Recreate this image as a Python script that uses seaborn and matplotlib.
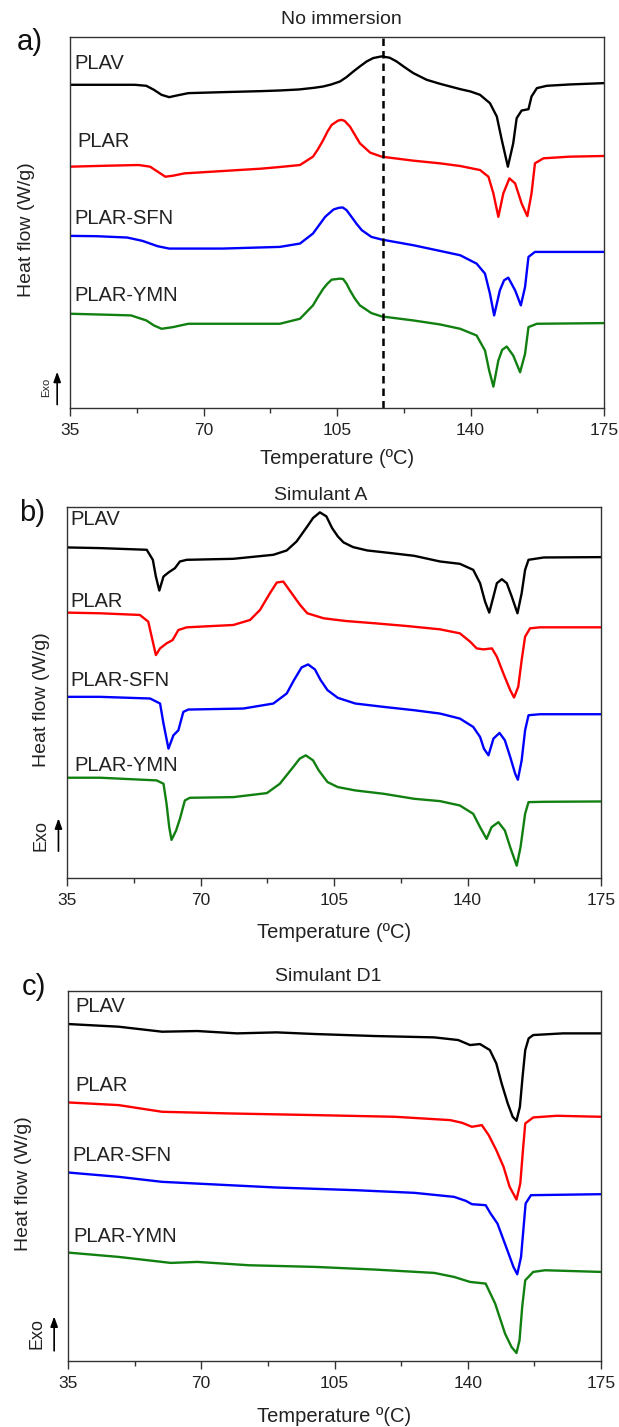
import numpy as np
import pandas as pd
import matplotlib
matplotlib.use("Agg")
import matplotlib.pyplot as plt
import matplotlib.transforms as mtransforms
import seaborn as sns

# ---------------- data (heat flow in arbitrary units, curves offset) ----------------
samples = ["PLAV", "PLAR", "PLAR-SFN", "PLAR-YMN"]
colors = ["#000000", "#ff0000", "#0000ff", "#118011"]
xticks = [35, 70, 105, 140, 175]
panel_titles = ["No immersion", "Simulant A", "Simulant D1"]
panel_letters = ["a)", "b)", "c)"]
xlabels = ["Temperature (\u00baC)", "Temperature (\u00baC)", "Temperature \u00ba(C)"]
tc_line = 117  # dashed marker in panel a

# Panel a: No immersion
a_plav_t = [35, 52, 55, 57, 59, 61, 63, 66, 75, 85, 90, 95, 99, 101.4, 103.5, 105.8, 107.5, 109.3, 111, 112.8, 114.5, 116.7, 118.8, 120.6, 122.8, 125, 128.5, 132, 137.3, 140, 142.5, 145.1, 146.9, 148.2, 149.8, 151.2, 152.1, 153.4, 155.2, 156, 157.4, 160, 166, 175]
a_plav_hf = [-2.55, -2.55, -2.58, -2.70, -2.85, -2.92, -2.87, -2.80, -2.77, -2.74, -2.72, -2.69, -2.64, -2.60, -2.54, -2.45, -2.32, -2.15, -2.00, -1.85, -1.75, -1.70, -1.74, -1.85, -2.03, -2.20, -2.40, -2.52, -2.68, -2.75, -2.85, -3.10, -3.50, -4.20, -5.00, -4.30, -3.55, -3.32, -3.28, -2.90, -2.65, -2.58, -2.54, -2.50]
a_plar_t = [35, 45, 53, 56, 58, 60, 62, 65, 75, 85, 90, 95.3, 98.7, 100, 101.4, 102.5, 103.6, 105.3, 106.2, 107, 108.4, 109.7, 111, 113.7, 116.7, 125, 132, 137.3, 142.5, 144.7, 146, 147.3, 148.6, 150.2, 151.7, 153.4, 154.9, 156, 156.9, 159.1, 166, 175]
a_plar_hf = [-5.00, -4.97, -4.95, -5.00, -5.15, -5.30, -5.27, -5.20, -5.13, -5.06, -5.01, -4.95, -4.70, -4.48, -4.20, -3.95, -3.75, -3.62, -3.60, -3.63, -3.80, -4.05, -4.30, -4.58, -4.70, -4.82, -4.90, -4.98, -5.10, -5.30, -5.80, -6.50, -5.80, -5.35, -5.50, -6.10, -6.48, -5.80, -4.90, -4.75, -4.70, -4.68]
a_sfn_t = [35, 42, 50, 54, 58, 61, 75, 90, 95.3, 98.7, 100.3, 101.9, 104.1, 105.5, 106.5, 107.5, 108.8, 110.2, 111.5, 114, 116.7, 125, 132, 137.3, 141.6, 143.8, 145.1, 146.2, 147.7, 148.8, 149.9, 151.7, 153.2, 154.3, 155.2, 156.9, 175]
a_sfn_hf = [-7.07, -7.08, -7.12, -7.22, -7.38, -7.45, -7.45, -7.40, -7.30, -7.00, -6.75, -6.50, -6.28, -6.23, -6.22, -6.30, -6.50, -6.72, -6.90, -7.10, -7.18, -7.35, -7.52, -7.65, -7.90, -8.20, -8.80, -9.45, -8.70, -8.40, -8.32, -8.70, -9.15, -8.60, -7.70, -7.55, -7.55]
a_ymn_t = [35, 45, 51, 55, 57, 59, 62, 66, 80, 90, 95.3, 98.7, 100, 101.4, 102.5, 103.6, 105.8, 106.6, 107.5, 108.4, 109.7, 111, 114, 116.7, 125, 132, 137.3, 141.6, 143.8, 144.9, 146, 147.3, 148.3, 149.5, 151.2, 153, 154.3, 155.2, 157.4, 175]
a_ymn_hf = [-9.40, -9.43, -9.45, -9.60, -9.75, -9.85, -9.80, -9.70, -9.70, -9.70, -9.55, -9.15, -8.90, -8.65, -8.50, -8.38, -8.35, -8.36, -8.50, -8.70, -8.95, -9.15, -9.38, -9.48, -9.60, -9.72, -9.85, -10.05, -10.50, -11.10, -11.58, -10.80, -10.48, -10.38, -10.65, -11.15, -10.60, -9.80, -9.70, -9.68]

# Panel b: Simulant A
b_plav_t = [35, 43.7, 55.9, 57.5, 58.3, 59.2, 60.3, 61.6, 63.3, 64.6, 66.4, 78.6, 89.1, 92.6, 95.2, 98, 99.5, 101.3, 103, 104.5, 106, 107.5, 110, 113.7, 120, 126, 132.8, 138, 141.5, 143.3, 144.6, 145.7, 146.8, 147.7, 149, 150.3, 151.6, 153.1, 154.2, 155.1, 156, 160, 175]
b_plav_hf = [-2.33, -2.35, -2.40, -2.70, -3.20, -3.62, -3.20, -3.08, -2.95, -2.75, -2.70, -2.67, -2.55, -2.42, -2.15, -1.70, -1.45, -1.28, -1.40, -1.75, -2.00, -2.18, -2.32, -2.42, -2.50, -2.58, -2.75, -2.82, -3.00, -3.40, -3.95, -4.28, -3.80, -3.40, -3.28, -3.40, -3.80, -4.30, -3.70, -3.00, -2.70, -2.63, -2.62]
b_plar_t = [35, 43.7, 54.1, 56.3, 57.2, 58.3, 59.4, 61.1, 62.7, 64.2, 66.4, 78.6, 83, 85.6, 88.2, 90, 91.7, 93.9, 96.1, 98, 102.3, 108, 115.8, 124, 132.8, 138, 140.7, 142.4, 144.2, 146.4, 147.7, 149.4, 151.2, 152.2, 153.3, 154.2, 155.1, 156.4, 159, 175]
b_plar_hf = [-4.28, -4.30, -4.35, -4.55, -5.00, -5.55, -5.35, -5.20, -5.10, -4.80, -4.72, -4.65, -4.50, -4.20, -3.70, -3.38, -3.35, -3.70, -4.05, -4.30, -4.45, -4.53, -4.60, -4.68, -4.78, -4.90, -5.15, -5.35, -5.38, -5.35, -5.60, -6.10, -6.60, -6.82, -6.50, -5.70, -5.00, -4.75, -4.72, -4.72]
b_sfn_t = [35, 43.7, 56.8, 59.4, 60.3, 61.6, 62.9, 64.2, 65.5, 66.8, 81.2, 89.1, 92.6, 94.5, 96.5, 98.2, 100, 101.5, 103.3, 106, 110.6, 118, 126, 132.8, 138, 141.5, 143.3, 144.3, 145.5, 146.8, 148.4, 149.8, 151.2, 152.5, 153.2, 154.2, 155.1, 156, 159, 175]
b_sfn_hf = [-6.80, -6.80, -6.85, -7.00, -7.60, -8.35, -7.95, -7.80, -7.25, -7.18, -7.15, -7.00, -6.70, -6.30, -5.92, -5.83, -5.98, -6.30, -6.60, -6.83, -7.00, -7.10, -7.20, -7.30, -7.45, -7.70, -8.00, -8.35, -8.55, -8.05, -7.88, -8.10, -8.60, -9.10, -9.28, -8.70, -7.80, -7.35, -7.32, -7.32]
b_ymn_t = [35, 43.7, 58.5, 60.3, 61.1, 61.8, 62.4, 63.6, 64.6, 65.9, 67.2, 78.6, 87.4, 90.8, 94.3, 96, 97.6, 99.5, 101, 103.3, 106, 110.6, 118, 126, 132.8, 138, 141.5, 143.3, 145, 146.3, 148.1, 149.8, 151.2, 152.9, 153.9, 155.1, 156, 160, 175]
b_ymn_hf = [-9.22, -9.22, -9.30, -9.40, -10.00, -10.70, -11.08, -10.80, -10.45, -9.90, -9.82, -9.80, -9.68, -9.40, -8.90, -8.65, -8.55, -8.70, -9.00, -9.35, -9.50, -9.60, -9.70, -9.85, -9.92, -10.05, -10.30, -10.70, -11.05, -10.70, -10.55, -10.80, -11.30, -11.85, -11.30, -10.30, -9.95, -9.94, -9.93]

# Panel c: Simulant D1
c_plav_t = [35, 48.3, 59.7, 69, 79.4, 89.8, 100, 115.7, 131.2, 137.5, 140.6, 143.2, 145.8, 147.5, 148.9, 150.5, 151.8, 152.8, 153.7, 154.4, 155.1, 156, 157.2, 165, 175]
c_plav_hf = [-2.22, -2.30, -2.45, -2.43, -2.50, -2.47, -2.52, -2.58, -2.62, -2.70, -2.85, -2.82, -3.00, -3.40, -4.00, -4.60, -5.00, -5.12, -4.70, -3.80, -3.00, -2.65, -2.55, -2.50, -2.50]
c_plar_t = [35, 48.3, 59.7, 77.3, 100, 120.9, 135.4, 138.5, 141.1, 143.7, 145.5, 147.5, 149.4, 151, 152.8, 153.8, 154.5, 155.1, 157.2, 163.4, 175]
c_plar_hf = [-4.57, -4.65, -4.85, -4.90, -4.95, -5.00, -5.10, -5.18, -5.30, -5.25, -5.55, -6.00, -6.50, -7.10, -7.48, -7.00, -6.00, -5.20, -5.02, -4.97, -5.00]
c_sfn_t = [35, 48.3, 59.7, 77.3, 89.7, 110.5, 126, 136.4, 139.5, 141.1, 144.7, 146, 147.8, 150.4, 152, 153, 154, 154.6, 155.2, 156.6, 175]
c_sfn_hf = [-6.67, -6.80, -6.95, -7.05, -7.12, -7.20, -7.28, -7.40, -7.52, -7.62, -7.65, -7.90, -8.20, -9.00, -9.50, -9.72, -9.20, -8.40, -7.60, -7.35, -7.32]
c_ymn_t = [35, 48.3, 62, 69, 82.5, 100, 115.7, 131.2, 136.4, 140.6, 144.7, 147.2, 149.8, 151.5, 152.8, 153.6, 154.3, 155.1, 157.2, 160.3, 175]
c_ymn_hf = [-9.07, -9.20, -9.38, -9.35, -9.45, -9.50, -9.58, -9.68, -9.80, -9.95, -10.00, -10.60, -11.50, -11.90, -12.08, -11.70, -10.70, -9.90, -9.65, -9.60, -9.65]

# ---------------- styling ----------------
sns.set_theme(style="white")
plt.rcParams["font.family"] = ["Liberation Sans", "DejaVu Sans"]
plt.rcParams["axes.edgecolor"] = "#333333"
plt.rcParams["axes.linewidth"] = 1.0

W, H = 619, 1427
fig = plt.figure(figsize=(W / 100, H / 100), dpi=100)

# axes boxes in pixels: left, top, right, bottom
boxes = [(70, 37, 604, 408), (67, 507, 601, 878), (68, 991, 601, 1361)]
ylims = [(-12.22, -1.12), (-12.22, -1.12), (-12.32, -1.23)]

panels = [
    [(a_plav_t, a_plav_hf), (a_plar_t, a_plar_hf), (a_sfn_t, a_sfn_hf), (a_ymn_t, a_ymn_hf)],
    [(b_plav_t, b_plav_hf), (b_plar_t, b_plar_hf), (b_sfn_t, b_sfn_hf), (b_ymn_t, b_ymn_hf)],
    [(c_plav_t, c_plav_hf), (c_plar_t, c_plar_hf), (c_sfn_t, c_sfn_hf), (c_ymn_t, c_ymn_hf)],
]

label_pos = [
    [(36.2, -1.90), (37.0, -4.25), (36.2, -6.55), (36.2, -8.85)],
    [(36.0, -1.50), (36.0, -3.95), (36.0, -6.32), (37.0, -8.85)],
    [(36.9, -1.70), (36.9, -4.05), (36.2, -6.17), (36.4, -8.60)],
]
title_pos = [(0.509, 0.046), (0.476, 0.032), (0.488, 0.038)]
letter_pos = [(30, 42), (32, 513), (34, 987)]
ylabel_x = [-0.081, -0.048, -0.083]
exo_arrow = [(-0.024, -12.20, -11.05), (-0.016, -11.50, -10.35), (-0.026, -12.10, -10.90)]
exo_text = [(-0.045, -11.60, 8), (-0.048, -10.95, 13), (-0.059, -11.50, 13)]
xlabel_off = [50, 55, 56]

for i, (l, t, r, b) in enumerate(boxes):
    ax = fig.add_axes([l / W, 1 - b / H, (r - l) / W, (b - t) / H])
    for (tt, hf), col, name in zip(panels[i], colors, samples):
        df = pd.DataFrame({"T": tt, "hf": hf})
        sns.lineplot(data=df, x="T", y="hf", ax=ax, color=col, lw=1.7,
                     estimator=None, sort=False, solid_joinstyle="round",
                     solid_capstyle="round")
    if i == 0:
        ax.axvline(tc_line, color="black", lw=1.8, ls=(0, (3, 2)))
    ax.set_xlim(35, 175)
    ax.set_ylim(*ylims[i])
    ax.set_xticks(xticks)
    ax.set_xticks([52.5, 87.5, 122.5, 157.5], minor=True)
    ax.set_yticks([])
    ax.tick_params(axis="x", which="major", bottom=True, direction="out", length=6,
                   width=1.0, color="#333333", labelsize=12.5, pad=5, labelcolor="#222222")
    ax.tick_params(axis="x", which="minor", bottom=True, direction="out", length=3.5,
                   width=1.0, color="#333333")
    for s in ax.spines.values():
        s.set_visible(True)
        s.set_color("#333333")
    ax.set_xlabel(xlabels[i], fontsize=14.5, color="#222222")
    ax.xaxis.set_label_coords(0.5, -xlabel_off[i] / (b - t), transform=ax.transAxes)
    ax.xaxis.label.set_va("center")
    ax.set_ylabel("Heat flow (W/g)", fontsize=14, color="#222222")
    ax.yaxis.set_label_coords(ylabel_x[i], 0.48)
    ax.yaxis.label.set_va("center")

    for (lx, ly), name in zip(label_pos[i], samples):
        ax.text(lx, ly, name, fontsize=14.5, color="#222222", ha="left", va="center")

    tx, ty = title_pos[i]
    ax.text(tx, 1 + ty, panel_titles[i], transform=ax.transAxes, ha="center",
            va="center", fontsize=14, color="#222222")

    trans = mtransforms.blended_transform_factory(ax.transAxes, ax.transData)
    axx, y0, y1 = exo_arrow[i]
    ax.annotate("", xy=(axx, y1), xytext=(axx, y0), xycoords=trans, textcoords=trans,
                arrowprops=dict(arrowstyle="-|>,head_length=0.5,head_width=0.18",
                                color="black", lw=1.2), annotation_clip=False)
    ex, ey, efs = exo_text[i]
    ax.text(ex, ey, "Exo", transform=trans, rotation=90, ha="center", va="center",
            fontsize=efs, color="#222222", clip_on=False)

    lx, ly = letter_pos[i]
    fig.text(lx / W, 1 - ly / H, panel_letters[i], fontsize=21, ha="center",
             va="center", color="#111111")

fig.savefig("out.png", dpi=100)
